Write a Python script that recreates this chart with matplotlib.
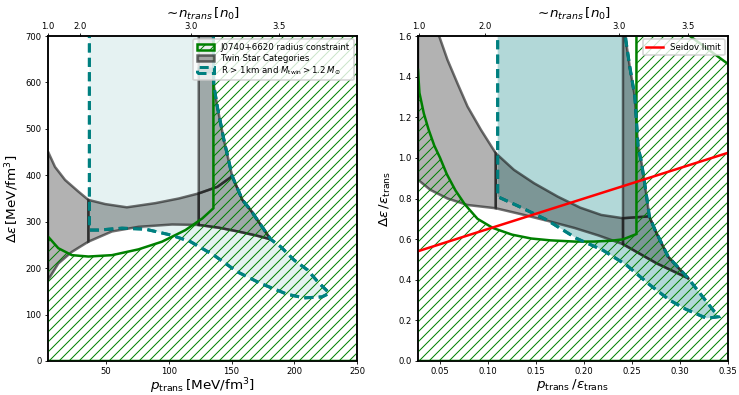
import numpy as np
import matplotlib
matplotlib.use('Agg')
import matplotlib.pyplot as plt
from matplotlib.patches import Polygon

DPI = 120
plt.rcParams['font.family'] = ['DejaVu Sans']
plt.rcParams['mathtext.fontset'] = 'dejavusans'
plt.rcParams['hatch.linewidth'] = 0.6

# ---------------- LEFT PANEL DATA (p_trans [MeV/fm^3], delta eps [MeV/fm^3]) -------------
L_xlim = (3.6, 250)
L_ylim = (0, 700)
L_top_ticks = [3.8, 29.4, 117.8, 187.8]
top_tick_labels = ['1.0', '2.0', '3.0', '3.5']

L_upper_p = [3.6, 9.2, 17.2, 27.8, 35.8, 49.2, 66.5, 89.2, 107.9, 123.8, 138.6, 150.5]
L_upper_e = [451, 418, 390, 365, 347, 338, 331, 340, 350, 361, 375, 398]
L_lower_p = [3.6, 11.8, 22.6, 35.8, 54.6, 75.8, 102.6, 123.8]
L_lower_e = [174, 210, 235, 257, 279, 289, 294, 293]
L_black_p = [123.8, 140, 155, 170, 181.2]
L_black_e = [293, 287, 279, 270, 262]
# right boundary from the tip upwards
L_right_p = [228, 218.6, 210.6, 199.8, 189.2, 181.2, 165.2, 158.6, 150.5, 143.9, 138.6, 135.8, 135.5, 135.5]
L_right_e = [146, 171, 196, 217.5, 246, 262, 325, 347, 398, 476, 548, 594, 650, 715]
L_teal_low_p = [36.6, 43.8, 62.6, 81.2, 102, 117.2, 135.8, 154.6, 173.2, 194.5, 207.8, 222, 228]
L_teal_low_e = [282, 282, 286, 284, 271, 257, 228, 192, 167, 143.6, 136, 138, 146]
L_teal_left_p = 36.6
L_green_p = [3.6, 11.8, 22.6, 35.8, 54.6, 75.8, 94.5, 113.2, 126.6, 135.5]
L_green_e = [268, 243, 228, 225, 228, 240.5, 257, 282, 307, 329]

# ---------------- RIGHT PANEL DATA (p_trans/eps_trans, delta eps/eps_trans) ----------------
R_xlim = (0.027, 0.35)
R_ylim = (0, 1.6)
R_top_ticks = [0.028, 0.097, 0.236, 0.308]

R_upper_r = [0.049, 0.0577, 0.068, 0.0786, 0.0926, 0.108, 0.127, 0.148, 0.1727, 0.196, 0.218, 0.2406, 0.268]
R_upper_e = [1.6, 1.483, 1.368, 1.253, 1.138, 1.023, 0.941, 0.875, 0.809, 0.755, 0.719, 0.703, 0.712]
R_lower_r = [0.027, 0.040, 0.0577, 0.0786, 0.108, 0.135, 0.162, 0.19, 0.215, 0.2406]
R_lower_e = [0.892, 0.842, 0.80, 0.768, 0.752, 0.722, 0.69, 0.655, 0.618, 0.575]
R_black_r = [0.2406, 0.2755, 0.3085]
R_black_e = [0.575, 0.481, 0.407]
R_right_r = [0.340, 0.3208, 0.3085, 0.2876, 0.274, 0.268, 0.2655, 0.260, 0.2563, 0.253, 0.2476, 0.2435, 0.2425]
R_right_e = [0.218, 0.333, 0.407, 0.514, 0.645, 0.712, 0.80, 0.974, 1.056, 1.30, 1.45, 1.581, 1.65]
R_teal_low_r = [0.110, 0.1326, 0.161, 0.192, 0.2198, 0.244, 0.2685, 0.289, 0.306, 0.3278, 0.340]
R_teal_low_e = [0.809, 0.76, 0.695, 0.604, 0.545, 0.473, 0.375, 0.30, 0.255, 0.21, 0.218]
R_teal_left_r = 0.110
R_green_r = [0.027, 0.0285, 0.033, 0.038, 0.044, 0.050, 0.057, 0.066, 0.076, 0.089, 0.105,
             0.125, 0.145, 0.165, 0.19, 0.21, 0.228, 0.2406, 0.2546]
R_green_e = [1.433, 1.32, 1.22, 1.14, 1.06, 1.0, 0.92, 0.84, 0.77, 0.70, 0.655,
             0.622, 0.603, 0.594, 0.588, 0.588, 0.592, 0.599, 0.625]
R_green_cut_r = [0.3045, 0.3103, 0.3487, 0.36]
R_green_cut_e = [1.62, 1.6, 1.467, 1.43]
seidov_r = [0.027, 0.35]
seidov_e = [0.5405, 1.025]

GRAY_FACE = (0, 0, 0, 0.3)
GRAY_EDGE = (0.1, 0.1, 0.1, 0.62)
TEAL = '#008080'
GREEN = 'green'
LW = 1.5


def pts(xs, ys):
    return np.column_stack([np.asarray(xs, float), np.asarray(ys, float)])


def gray(ax, xy, label=None):
    p = Polygon(xy, closed=True, facecolor=GRAY_FACE, edgecolor=GRAY_EDGE, lw=LW,
                zorder=2, label=label)
    ax.add_patch(p)
    return p


def draw_panel(ax, up_x, up_y, lo_x, lo_y, bl_x, bl_y, rb_x, rb_y, tl_x, tl_y, t_left,
               gr_poly, teal_alpha, ytop, i_split_up, i_up_end_strip, i_rb_black, i_rb_up):
    up = pts(up_x, up_y)
    lo = pts(lo_x, lo_y)
    bl = pts(bl_x, bl_y)
    rb = pts(rb_x, rb_y)
    tl = pts(tl_x, tl_y)
    # teal region
    teal_xy = np.vstack([[[t_left, ytop]], tl, rb[1:]])
    teal = Polygon(teal_xy, closed=True, facecolor=(0, 0.5, 0.5, teal_alpha),
                   edgecolor=TEAL, lw=1.8, linestyle=(0, (3, 1.8)), zorder=1)
    ax.add_patch(teal)
    ax.add_patch(Polygon(teal_xy, closed=True, facecolor='none', edgecolor=TEAL, lw=1.8,
                         linestyle=(0, (3, 1.8)), zorder=4))
    # gray twin star regions
    xa = up[i_split_up][0]
    iv = i_up_end_strip
    ilo = int(np.argmin(np.abs(lo[:, 0] - xa)))
    left_part = up[:i_split_up + 1]
    if up[0][0] > lo[0][0] + 1e-9:   # upper curve leaves through the top: add the corner
        left_part = np.vstack([[[lo[0][0], ytop], [up[0][0], ytop]], left_part])
    g1 = gray(ax, np.vstack([left_part, lo[:ilo + 1][::-1]]), label='Twin Star Categories')
    # band between the curves
    gray(ax, np.vstack([lo[ilo:], up[i_split_up:iv + 1][::-1]]))
    xb = up[iv][0]
    # strip above upper curve
    gray(ax, np.vstack([[[xb, ytop]], up[iv:], rb[i_rb_up + 1:]]))
    # lower triangle
    gray(ax, np.vstack([bl, rb[i_rb_black + 1:i_rb_up + 1], up[iv:][::-1]]))
    # darker category boundaries
    ax.plot(bl[:, 0], bl[:, 1], color=GRAY_EDGE, lw=LW, zorder=2.5)
    seg = rb[i_rb_black:i_rb_up + 1]
    ax.plot(seg[:, 0], seg[:, 1], color=GRAY_EDGE, lw=LW, zorder=2.5)
    # green hatched constraint
    green = Polygon(gr_poly, closed=True, facecolor='none', edgecolor=GREEN, lw=LW,
                    hatch='////', zorder=3)
    ax.add_patch(green)
    return green, g1, teal


fig = plt.figure(figsize=(739 / DPI, 395 / DPI), dpi=DPI)
axL = fig.add_axes([48 / 739, 34 / 395, 309 / 739, 325 / 395])
axR = fig.add_axes([418 / 739, 34 / 395, 310 / 739, 325 / 395])

# left panel
gL = pts(L_green_p, L_green_e)
L_green_poly = np.vstack([[[-5, L_green_e[0]]], gL, [[L_green_p[-1], 720], [260, 720], [260, 0], [-5, 0]]])
hL = draw_panel(axL, L_upper_p, L_upper_e, L_lower_p, L_lower_e, L_black_p, L_black_e,
                L_right_p, L_right_e, L_teal_low_p, L_teal_low_e, L_teal_left_p,
                L_green_poly, 0.1, 715, 4, 9, 5, 8)
axL.set_xlim(*L_xlim)
axL.set_ylim(*L_ylim)
axL.set_xticks([50, 100, 150, 200, 250])

# right panel
gR = pts(R_green_r, R_green_e)
R_green_poly = np.vstack([[[0.02, R_green_e[0]]], gR, [[R_green_r[-1], 1.62]],
                          pts(R_green_cut_r, R_green_cut_e), [[0.36, 0], [0.02, 0]]])
hR = draw_panel(axR, R_upper_r, R_upper_e, R_lower_r, R_lower_e, R_black_r, R_black_e,
                R_right_r, R_right_e, R_teal_low_r, R_teal_low_e, R_teal_left_r,
                R_green_poly, 0.3, 1.65, 5, 11, 2, 5)
seid, = axR.plot(seidov_r, seidov_e, color='red', lw=LW, zorder=5, label='Seidov limit')
axR.set_xlim(*R_xlim)
axR.set_ylim(*R_ylim)
axR.set_xticks([0.05, 0.10, 0.15, 0.20, 0.25, 0.30, 0.35])
axR.set_xticklabels(['0.05', '0.10', '0.15', '0.20', '0.25', '0.30', '0.35'])

TICK_FS = 5.1
LAB_FS = 8.1
for ax in (axL, axR):
    ax.tick_params(labelsize=TICK_FS, length=2, width=0.5, pad=1.8)
    for s in ax.spines.values():
        s.set_linewidth(0.9)

axL.set_xlabel(r'$p_{\rm trans}\,[\rm MeV/fm^3]$', fontsize=LAB_FS, labelpad=0.3)
axL.set_ylabel(r'$\Delta\varepsilon\,[\rm MeV/fm^3]$', fontsize=LAB_FS, labelpad=3)
axR.set_xlabel(r'$p_{\rm trans}\,/\varepsilon_{\rm trans}$', fontsize=LAB_FS, labelpad=0.3)
axR.set_ylabel(r'$\Delta\varepsilon\,/\varepsilon_{\rm trans}$', fontsize=LAB_FS, labelpad=3)

for ax, ticks in ((axL, L_top_ticks), (axR, R_top_ticks)):
    t = ax.twiny()
    t.set_xlim(ax.get_xlim())
    t.set_xticks(ticks)
    t.set_xticklabels(top_tick_labels)
    t.tick_params(labelsize=TICK_FS, length=2, width=0.5, pad=1.2)
    t.set_xlabel(r'$\sim\!n_{trans}\,[n_0]$', fontsize=LAB_FS, labelpad=2.2)
    for s in t.spines.values():
        s.set_linewidth(0.9)

LEG_FS = 5.2
axL.legend([hL[0], hL[1], hL[2]],
           ['J0740+6620 radius constraint', 'Twin Star Categories',
            r'R > 1km and $M_{\rm twin} > 1.2\,M_\odot$'],
           loc='upper right', fontsize=LEG_FS, labelspacing=0.2, borderaxespad=0.4,
           fancybox=True).set_zorder(10)
axR.legend(handles=[seid], loc='upper right', fontsize=LEG_FS, borderaxespad=0.4).set_zorder(10)

fig.savefig('out.png', dpi=DPI)
